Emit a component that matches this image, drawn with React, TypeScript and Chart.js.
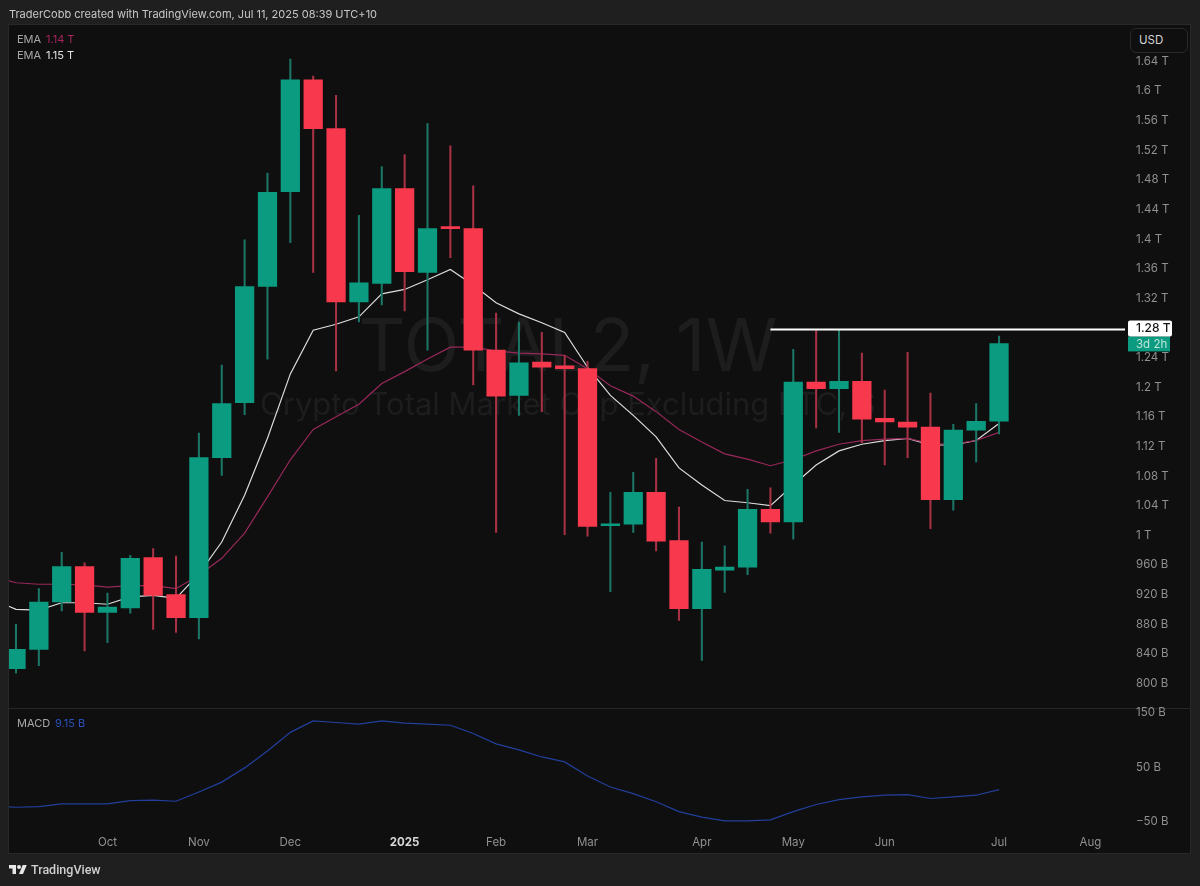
import React, { useEffect, useRef } from "react";
import { Chart, registerables } from "chart.js";

Chart.register(...registerables);

// All prices are in billions of USD. Week 0 is the first candle on screen.
const opens = [820,846,910,958,896,902,970,920,889,1105,1179,1336,1464,1615,1549,1315,1340,1468,1355,1415,1414,1250,1189,1234,1229,1225,1013,1015,1058,993,901,953,957,1035,1018,1207,1198,1208,1158,1153,1146,1048,1142,1154];
const highs = [880,928,977,963,922,973,982,972,1138,1230,1399,1489,1643,1620,1594,1432,1498,1514,1556,1526,1472,1300,1288,1274,1243,1235,1058,1085,1104,1038,991,986,1062,1064,1251,1277,1277,1246,1196,1247,1192,1150,1178,1269];
const lows = [814,824,898,844,855,895,873,869,860,1081,1163,1238,1395,1355,1222,1288,1311,1303,1250,1375,1203,1004,1162,1167,1001,999,924,1004,979,885,831,923,947,1003,995,1145,1139,1125,1095,1105,1009,1034,1099,1137];
const closes = [846,910,958,896,903,969,919,889,1105,1178,1336,1463,1615,1549,1315,1341,1468,1356,1414,1414,1250,1188,1233,1227,1225,1012,1015,1058,992,901,954,957,1035,1018,1207,1198,1208,1157,1153,1146,1048,1142,1154,1259];

// These three start one week earlier, so the lines run off the left edge.
const emaWhite = [913,900,899,909,909,907,917,919,915,948,991,1054,1131,1218,1277,1285,1295,1326,1332,1345,1359,1338,1314,1299,1287,1274,1227,1189,1162,1133,1091,1068,1047,1044,1040,1068,1095,1114,1123,1128,1131,1122,1122,1128,1151];
const emaPink = [944,936,934,934,933,930,932,932,928,946,969,1003,1052,1102,1143,1160,1177,1205,1221,1238,1254,1254,1249,1246,1245,1243,1225,1202,1188,1167,1143,1126,1110,1103,1094,1102,1114,1123,1128,1130,1131,1124,1123,1128,1139];
const macdLine = [-21,-23,-22,-17,-17,-17,-11,-10,-12,5,23,49,80,114,135,132,129,135,131,129,127,112,93,82,69,60,34,14,2,-13,-31,-41,-48,-48,-46,-31,-18,-9,-4,-1,0,-7,-4,-1,9.15];

const priceTicks = [800,840,880,920,960,1000,1040,1080,1120,1160,1200,1240,1280,1320,1360,1400,1440,1480,1520,1560,1600,1640];
const macdTicks = [150,50,-50];
const monthWeeks = [4,8,12,17,21,25,30,34,38,43,47];
const monthLabels = ["Oct","Nov","Dec","2025","Feb","Mar","Apr","May","Jun","Jul","Aug"];

const levelValue = 1278;
const levelStartWeek = 33;
const levelLabel = "1.28 T";
const countdownLabel = "3d 2h";
const watermarkTitle = "TOTAL2, 1W";
const watermarkSub = "Crypto Total Market Cap Excluding BTC, $";

const GREEN = "#0b9b81";
const RED = "#f7384d";
const GREEN_WICK = "#1b7666";
const RED_WICK = "#a83245";
const FONT = "Inter, 'Noto Sans', sans-serif";
const X_MIN = -0.306;
const X_MAX = 48.51;

const priceText = (v: number) => (v >= 1000 ? `${v / 1000} T` : `${v} B`);
const macdText = (v: number) => (v < 0 ? `\u2212${-v} B` : `${v} B`);

const overlay = {
  id: "overlay",
  beforeDatasetsDraw(chart: any) {
    const { ctx } = chart;
    ctx.save();
    ctx.fillStyle = "#1d1d1d";
    ctx.textAlign = "center";
    ctx.textBaseline = "middle";
    ctx.font = `400 73px ${FONT}`;
    ctx.fillText(watermarkTitle, 568, 349);
    ctx.font = `400 31px ${FONT}`;
    ctx.fillText(watermarkSub, 568, 406);
    ctx.restore();
  },
  afterDraw(chart: any) {
    const { ctx } = chart;
    const y = chart.scales.y.getPixelForValue(levelValue);
    ctx.save();
    ctx.fillStyle = GREEN;
    ctx.fillRect(1128, y + 7, 42, 15);
    ctx.fillStyle = "#ffffff";
    ctx.beginPath();
    ctx.roundRect(1128, y - 9, 44, 16, 2);
    ctx.fill();
    ctx.font = `500 12px ${FONT}`;
    ctx.textAlign = "left";
    ctx.textBaseline = "middle";
    ctx.fillStyle = "#141414";
    ctx.fillText(levelLabel, 1136, y - 1);
    ctx.fillStyle = "#bfe5da";
    ctx.font = `400 11.5px ${FONT}`;
    ctx.fillText(countdownLabel, 1136, y + 15);
    ctx.restore();
  },
};

export default function App() {
  const ref = useRef<HTMLCanvasElement>(null);

  useEffect(() => {
    document.body.style.margin = "0";
    document.body.style.background = "#1f1f1f";
    const isUp = (i: number) => closes[i] >= opens[i];
    const chart = new Chart(ref.current as HTMLCanvasElement, {
      type: "bar",
      data: {
        datasets: [
          {
            type: "line",
            data: [
              { x: levelStartWeek, y: levelValue },
              { x: X_MAX, y: levelValue },
            ],
            borderColor: "#ffffff",
            borderWidth: 2,
            pointRadius: 0,
            order: 0,
            yAxisID: "y",
          },
          {
            type: "bar",
            data: opens.map((o, i) => ({ x: i, y: [o, closes[i]] })),
            backgroundColor: opens.map((_, i) => (isUp(i) ? GREEN : RED)),
            barThickness: 18.6,
            minBarLength: 2,
            grouped: false,
            order: 1,
            yAxisID: "y",
          },
          {
            type: "bar",
            data: highs.map((h, i) => ({ x: i, y: [lows[i], h] })),
            backgroundColor: highs.map((_, i) => (isUp(i) ? GREEN_WICK : RED_WICK)),
            barThickness: 1.4,
            grouped: false,
            order: 2,
            yAxisID: "y",
          },
          {
            type: "line",
            data: emaPink.map((v, i) => ({ x: i - 1, y: v })),
            borderColor: "#98285a",
            borderWidth: 1.2,
            pointRadius: 0,
            tension: 0,
            order: 3,
            yAxisID: "y",
          },
          {
            type: "line",
            data: emaWhite.map((v, i) => ({ x: i - 1, y: v })),
            borderColor: "#dcdcdc",
            borderWidth: 1.2,
            pointRadius: 0,
            tension: 0,
            order: 3,
            yAxisID: "y",
          },
          {
            type: "line",
            data: macdLine.map((v, i) => ({ x: i - 1, y: v })),
            borderColor: "#223f9c",
            borderWidth: 1.2,
            pointRadius: 0,
            tension: 0,
            order: 3,
            yAxisID: "macd",
          },
        ],
      } as any,
      options: {
        responsive: false,
        animation: false,
        layout: { padding: { left: 9, right: 10, top: 25, bottom: 33 } },
        plugins: { legend: { display: false }, tooltip: { enabled: false } },
        scales: {
          x: {
            type: "linear",
            offset: false,
            min: X_MIN,
            max: X_MAX,
            grid: { display: false, offset: false, drawTicks: false },
            border: { display: false },
            afterFit(s: any) {
              s.height = 21;
            },
            afterBuildTicks(s: any) {
              s.ticks = monthWeeks.map((value) => ({ value }));
            },
            ticks: {
              autoSkip: false,
              maxRotation: 0,
              padding: 4,
              callback: (v: any) => monthLabels[monthWeeks.indexOf(v)],
              font: (c: any) =>
                c.tick && c.tick.label === "2025"
                  ? { family: FONT, size: 11.5, weight: "700" }
                  : { family: FONT, size: 11.5 },
              color: (c: any) => (c.tick && c.tick.label === "2025" ? "#d8d8d8" : "#909090"),
            },
          },
          y: {
            type: "linear",
            position: "right",
            stack: "panes",
            stackWeight: 683.3,
            min: 766.5,
            max: 1689,
            grid: { display: false, drawTicks: false },
            border: { display: false },
            afterFit(s: any) {
              s.width = 65;
            },
            afterBuildTicks(s: any) {
              s.ticks = priceTicks.map((value) => ({ value }));
            },
            ticks: {
              autoSkip: false,
              padding: 11,
              crossAlign: "near",
              callback: (v: any) => priceText(v),
              font: { family: FONT, size: 11.5 },
              color: "#909090",
            },
          },
          macd: {
            type: "linear",
            position: "right",
            stack: "panes",
            stackWeight: 123.7,
            min: -68.3,
            max: 158,
            grid: { display: false, drawTicks: false },
            border: { display: false },
            afterFit(s: any) {
              s.width = 65;
            },
            afterBuildTicks(s: any) {
              s.ticks = macdTicks.map((value) => ({ value }));
            },
            ticks: {
              autoSkip: false,
              padding: 11,
              crossAlign: "near",
              callback: (v: any) => macdText(v),
              font: { family: FONT, size: 11.5 },
              color: "#909090",
            },
          },
        },
      } as any,
      plugins: [overlay],
    });
    return () => chart.destroy();
  }, []);

  const text = (left: number, top: number, color: string, size: number, extra: any = {}) => ({
    position: "absolute" as const,
    left,
    top,
    color,
    fontSize: size,
    lineHeight: "16px",
    whiteSpace: "nowrap" as const,
    fontFamily: FONT,
    ...extra,
  });

  return (
    <div style={{ position: "absolute", left: 0, top: 0, width: 1200, height: 886, background: "#1f1f1f", overflow: "hidden" }}>
      <div style={{ position: "absolute", left: 9, top: 25, width: 1181, height: 828, background: "#0f0f0f", boxShadow: "0 0 0 1px #282828" }} />
      <div style={{ position: "absolute", left: 9, top: 708, width: 1181, height: 1, background: "#272727" }} />
      <canvas ref={ref} width={1200} height={886} style={{ position: "absolute", left: 0, top: 0, width: 1200, height: 886 }} />
      <div style={text(9, 6, "#c8c8c8", 11)}>TraderCobb created with TradingView.com, Jul 11, 2025 08:39 UTC+10</div>
      <div style={text(17, 31, "#a8a8a8", 11)}>EMA</div>
      <div style={text(46, 31, "#a8255c", 11)}>1.14 T</div>
      <div style={text(17, 47, "#a8a8a8", 11)}>EMA</div>
      <div style={text(46, 47, "#e4e4e4", 11)}>1.15 T</div>
      <div style={text(17, 715, "#a8a8a8", 11)}>MACD</div>
      <div style={text(55, 715, "#2a50b8", 11)}>9.15 B</div>
      <div style={{ position: "absolute", left: 1130, top: 28, width: 56, height: 23, border: "1px solid #2a2a2a", borderRadius: 6, background: "#0f0f0f" }} />
      <div style={text(1139, 32, "#d4d4d4", 11.5)}>USD</div>
      <svg width="18" height="14" viewBox="0 0 36 28" style={{ position: "absolute", left: 9, top: 863 }}>
        <path fill="#e8e8e8" d="M14 22H7V11H0V4h14v18zM28 22h-8l7.5-18h8L28 22z" />
        <circle fill="#e8e8e8" cx="20" cy="8" r="4" />
      </svg>
      <div style={{ ...text(31, 862, "#d0d0d0", 12.5, { fontWeight: 500 }), fontFamily: "Roboto, sans-serif" }}>TradingView</div>
    </div>
  );
}
